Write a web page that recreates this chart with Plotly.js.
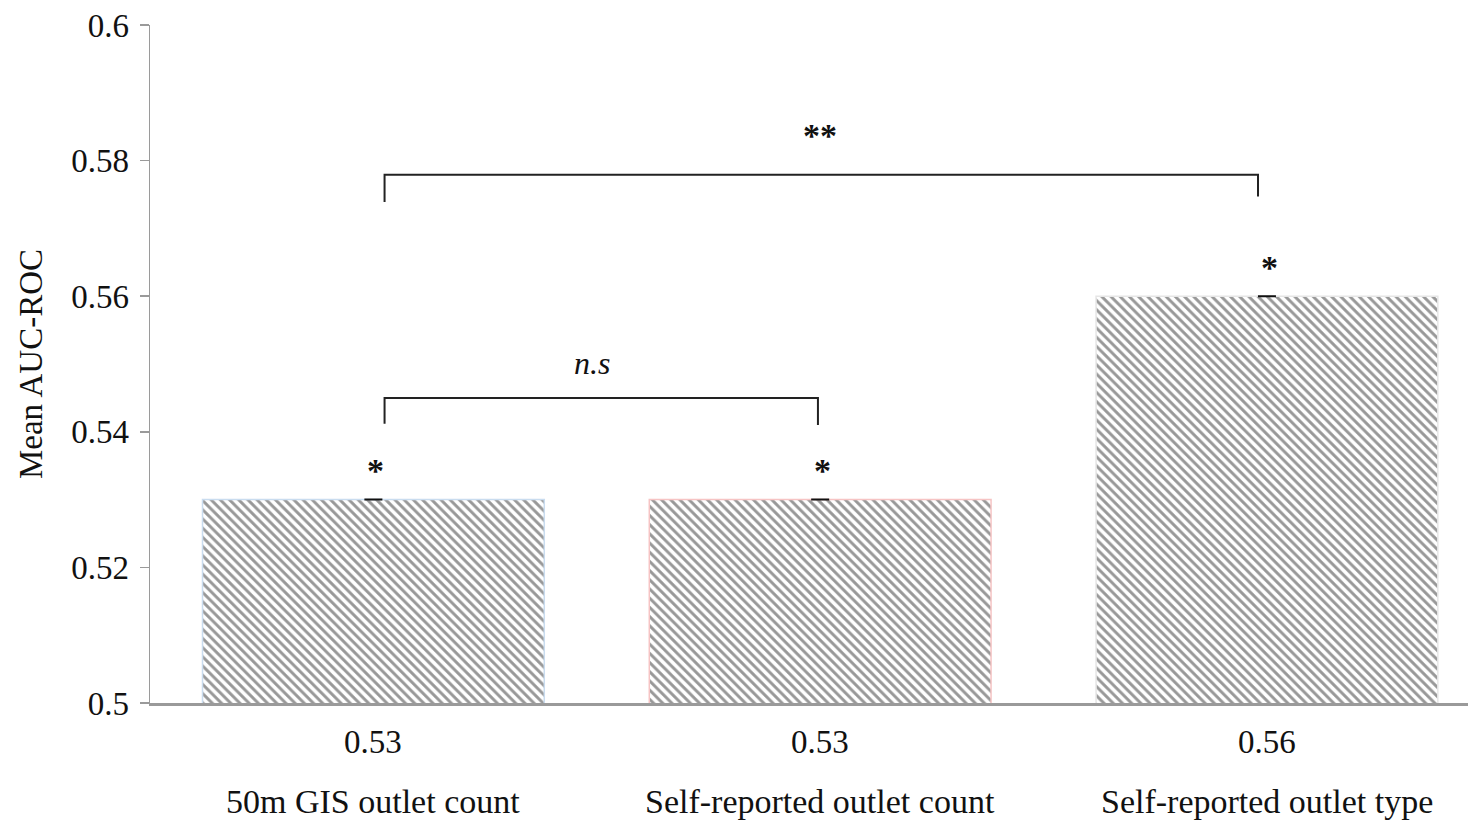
<!DOCTYPE html>
<html>
<head>
<meta charset="utf-8">
<script src="https://cdn.plot.ly/plotly-3.0.1.min.js"></script>
<style>html,body{margin:0;padding:0;background:#fff;overflow:hidden}</style>
</head>
<body>
<div id="chart" style="width:1468px;height:820px"></div>
<script>
// ---- data ----
const categories = ["50m GIS outlet count", "Self-reported outlet count", "Self-reported outlet type"];
const meanAUC = [0.53, 0.53, 0.56];
const errAUC = [0, 0, 0];
const valueLabels = ["0.53", "0.53", "0.56"];
const barSignif = ["*", "*", "*"];
const outlineColors = ["#c9dcef", "#f6c4c4", "#e6e6e6"];
// pairwise comparisons: [from index, to index, label, bracket level]
const compFrom = [0, 0];
const compTo = [1, 2];
const compLabel = ["<i>n.s</i>", "**"];
const compLevel = [0.5450, 0.5779];
const yTicks = [0.5, 0.52, 0.54, 0.56, 0.58, 0.6];
const yTickText = ["0.5", "0.52", "0.54", "0.56", "0.58", "0.6"];

const FONT = "Liberation Serif, Times New Roman, serif";
const idx = categories.map((_, i) => i);

const trace = {
  type: "bar",
  x: idx,
  y: meanAUC,
  width: 0.765,
  marker: {
    color: "#ffffff",
    line: {color: outlineColors, width: 1.5},
    pattern: {shape: "\\", fgcolor: "#989898", bgcolor: "#ffffff", size: 6.5, solidity: 0.45}
  },
  error_y: {type: "data", array: errAUC, visible: true, color: "#111", thickness: 2, width: 9},
  hoverinfo: "skip"
};

const shapes = [];
const annotations = [];
const legL = [0.0038, 0.0040];
const legR = [0.0040, 0.0032];
compFrom.forEach((a, k) => {
  const b = compTo[k];
  const x0 = a + 0.025, x1 = b - (k === 0 ? 0.005 : 0.02);
  const lv = compLevel[k];
  shapes.push({
    type: "path", xref: "x", yref: "y",
    path: `M ${x0} ${lv - legL[k]} L ${x0} ${lv} L ${x1} ${lv} L ${x1} ${lv - legR[k]}`,
    line: {color: "#222", width: 2}
  });
  annotations.push({
    x: (a + b) / 2 - (k === 0 ? 0.01 : 0.0), y: lv + (k === 0 ? 0.0052 : 0.0058),
    xref: "x", yref: "y", text: compLabel[k], showarrow: false,
    font: {family: FONT, size: k === 0 ? 32 : 34, color: "#111", weight: k === 0 ? 400 : 700},
    yanchor: "middle"
  });
});
idx.forEach(i => {
  annotations.push({
    x: i + 0.005, y: meanAUC[i] + 0.0043, xref: "x", yref: "y", text: barSignif[i], showarrow: false,
    font: {family: FONT, size: 34, color: "#111", weight: 700}, yanchor: "middle"
  });
  annotations.push({
    x: i, y: -0.058, xref: "x", yref: "paper", text: valueLabels[i], showarrow: false,
    font: {family: FONT, size: 33, color: "#111"}, yanchor: "middle"
  });
  annotations.push({
    x: i, y: -0.145, xref: "x", yref: "paper", text: categories[i], showarrow: false,
    font: {family: FONT, size: 34, color: "#111"}, yanchor: "middle"
  });
});

const layout = {
  width: 1468, height: 820,
  margin: {l: 150, r: 0, t: 25, b: 117},
  paper_bgcolor: "#fff", plot_bgcolor: "#fff",
  showlegend: false,
  font: {family: FONT, color: "#111"},
  xaxis: {
    range: [-0.5, 2.45], showticklabels: false, ticks: "",
    showline: true, linecolor: "#9a9a9a", linewidth: 2.5,
    showgrid: false, zeroline: false, fixedrange: true
  },
  yaxis: {
    range: [0.5, 0.6], tickvals: yTicks, ticktext: yTickText,
    ticks: "outside", ticklen: 9, tickcolor: "#9a9a9a", tickwidth: 1.5,
    showline: true, linecolor: "#9a9a9a", linewidth: 1.5,
    showgrid: false, zeroline: false,
    tickfont: {family: FONT, size: 33, color: "#111"},
    ticklabelstandoff: 4,
    title: {text: "Mean AUC-ROC", font: {family: FONT, size: 33, color: "#111"}, standoff: 18}
  },
  shapes: shapes,
  annotations: annotations
};

Plotly.newPlot("chart", [trace], layout, {displayModeBar: false, staticPlot: true});
</script>
</body>
</html>
